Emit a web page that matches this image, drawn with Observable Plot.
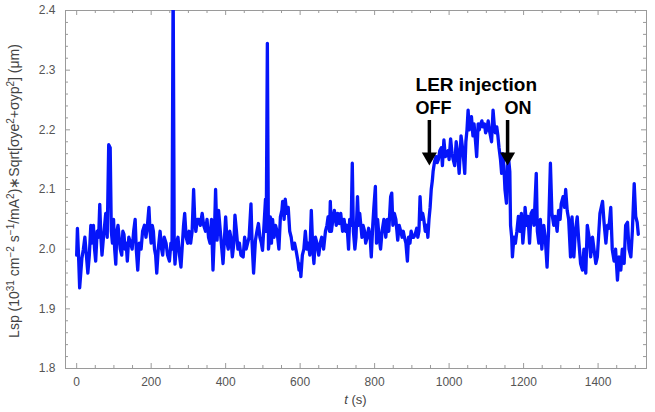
<!DOCTYPE html>
<html><head><meta charset="utf-8">
<script src="https://cdn.jsdelivr.net/npm/d3@7"></script>
<script src="https://cdn.jsdelivr.net/npm/@observablehq/plot@0.6"></script>
<style>body{margin:0;background:#fff;} #chart{width:655px;height:412px;}</style>
</head><body><div id="chart"></div>
<script>
// time (s)
const t = [
0,2,5,8,11,14,18,22,26,30,
34,38,41,45,48,51,55,59,62,65,
68,72,75,78,82,86,90,93,96,99,
102,105,108,111,114,117,121,124,127,130,
133,136,140,145,149,153,157,160,164,168,
173,177,182,186,190,194,197,200,203,206,
209,212,215,219,224,228,231,235,240,244,
249,253,256,259,262,264,268,272,276,280,
284,287,290,294,298,302,306,310,314,317,
320,324,328,332,337,341,346,350,354,358,
362,366,370,373,377,381,387,393,400,404,
407,411,414,418,422,425,429,433,437,441,
447,451,455,459,463,468,471,475,480,484,
488,492,496,499,503,507,509,512,515,518,
520,523,526,530,534,538,543,547,551,553,
557,560,564,568,572,576,580,585,590,594,
597,600,602,606,610,614,618,622,626,630,
634,637,641,645,650,654,658,663,668,672,
675,679,681,684,688,692,697,701,705,709,
714,718,722,726,730,733,737,740,743,747,
750,754,757,760,763,766,769,773,776,780,
784,788,791,795,798,802,805,808,812,816,
820,825,830,834,838,843,846,849,853,857,
862,866,870,874,877,880,884,888,891,895,
898,902,905,909,913,916,919,922,925,929,
932,936,940,943,946,949,952,955,957,961,
965,968,971,975,979,982,986,990,993,997,
1000,1004,1008,1011,1015,1019,1023,1027,1032,1036,
1039,1042,1045,1048,1051,1054,1057,1060,1064,1067,
1071,1074,1078,1081,1085,1088,1091,1095,1098,1101,
1105,1108,1111,1114,1118,1121,1124,1128,1131,1134,
1138,1141,1144,1147,1150,1154,1157,1160,1163,1165,
1168,1170,1174,1178,1182,1186,1190,1194,1198,1202,
1204,1208,1212,1216,1220,1224,1228,1234,1237,1241,
1245,1249,1254,1258,1263,1267,1272,1276,1281,1285,
1290,1294,1298,1301,1306,1310,1313,1317,1321,1326,
1330,1335,1339,1344,1348,1353,1358,1362,1367,1371,
1376,1380,1385,1389,1394,1398,1405,1412,1416,1421,
1425,1429,1434,1438,1443,1447,1452,1456,1461,1465,
1470,1474,1479,1483,1488,1492,1497,1501,1505,1508
];
// Lsp value
const lsp = [
1.99,2.035,1.99,1.935,1.96,1.985,2.0,2.02,1.99,1.96,
1.99,2.04,2.01,2.04,2.0,1.98,2.03,2.02,2.075,2.02,
1.99,2.02,2.04,2.06,2.02,2.175,2.17,2.03,2.01,2.05,
2.0,1.975,2.03,2.04,2.02,2.0,1.99,2.03,2.025,2.0,
2.01,1.98,2.02,2.01,2.0,2.03,2.05,2.0,1.965,2.01,
2.0,2.03,2.04,2.02,2.04,2.07,2.03,2.01,2.04,2.03,
2.0,1.99,1.96,2.0,2.03,2.0,1.99,2.02,2.01,1.99,
1.98,2.01,2.0,2.45,2.0,1.975,2.01,2.02,1.99,1.97,
2.01,2.04,2.06,2.02,2.01,2.03,2.01,2.03,2.1,2.05,
2.03,2.05,2.05,2.04,2.06,2.04,2.03,2.05,2.02,2.01,
2.05,1.965,2.03,2.1,2.015,2.065,2.02,1.976,2.054,2.01,
2.0,2.03,2.02,1.987,2.01,2.057,2.03,2.0,2.01,1.99,
1.987,2.02,2.0,2.01,2.02,2.076,2.01,1.96,2.015,2.03,
2.043,2.02,2.01,1.998,2.04,2.084,2.03,2.345,2.0,2.02,
2.054,2.01,2.05,2.02,2.04,2.03,2.0,2.054,2.065,2.08,
2.05,2.084,2.06,2.07,2.03,2.02,2.0,2.01,1.995,1.98,
1.965,1.975,1.954,1.99,2.0,2.03,2.0,2.01,1.99,2.065,
2.0,1.976,2.02,2.01,1.99,2.01,2.02,2.0,2.03,2.04,
2.054,2.03,2.08,2.03,2.05,2.065,2.04,2.06,2.043,2.06,
2.03,2.05,2.03,2.04,2.0,2.05,2.04,2.144,2.03,2.0,
2.02,2.088,2.04,2.06,2.04,2.02,2.04,2.03,2.01,2.02,
2.035,2.02,1.987,2.04,2.07,2.105,2.01,2.05,2.02,2.0,
2.03,2.05,2.02,2.05,2.03,2.088,2.094,2.04,2.06,2.05,
2.015,2.04,2.03,2.02,2.03,2.02,2.01,1.98,2.02,2.01,
2.03,2.02,2.02,2.025,2.035,2.02,2.03,2.088,2.05,2.06,
2.05,2.03,2.04,2.02,2.05,2.07,2.1,2.115,2.13,2.147,
2.155,2.145,2.15,2.165,2.17,2.14,2.183,2.155,2.16,2.165,
2.15,2.185,2.16,2.15,2.14,2.18,2.16,2.127,2.19,2.17,
2.15,2.127,2.18,2.2,2.233,2.2,2.21,2.222,2.19,2.21,
2.18,2.155,2.21,2.2,2.21,2.215,2.205,2.21,2.195,2.2,
2.215,2.2,2.19,2.18,2.233,2.21,2.195,2.205,2.19,2.17,
2.15,2.127,2.16,2.14,2.1,2.077,2.14,2.15,2.13,2.04,
2.02,1.987,2.02,2.01,2.03,2.055,2.03,2.06,2.01,2.04,
2.07,2.04,2.055,2.01,2.06,2.065,2.04,2.127,2.03,2.01,
2.05,2.0,2.04,2.02,1.97,2.03,2.144,2.06,2.04,2.055,
2.03,2.065,2.05,2.076,2.088,2.07,2.1,2.065,2.05,1.987,
2.054,1.987,2.03,2.054,2.015,1.976,1.965,2.0,1.96,2.04,
2.02,1.987,2.02,2.0,1.976,1.987,2.06,2.08,2.045,2.01,
2.04,2.035,2.07,2.0,1.98,2.0,1.948,1.987,1.965,2.0,
1.976,2.04,2.045,2.0,1.987,2.03,2.11,2.055,2.045,2.025
];
const xTicks = [0, 200, 400, 600, 800, 1000, 1200, 1400];
const yTicks = [1.8, 1.9, 2.0, 2.1, 2.2, 2.3, 2.4];
const xMinor = d3.range(0, 1501, 50).filter(v => v % 200 !== 0);
const yMinor = d3.range(0, 31).map(i => +(1.8 + i * 0.02).toFixed(2)).filter(v => Math.abs(v * 10 - Math.round(v * 10)) > 1e-6);
const annotText = ["LER injection", "OFF", "ON"];
const arrowT = [947, 1157];

const frameColor = "#9a9a9a";
const FW = 581, FH = 358;
const chart = Plot.plot({
  width: 655, height: 412,
  marginLeft: 65, marginRight: 9, marginTop: 10, marginBottom: 44,
  x: {domain: [-30, 1530]},
  y: {domain: [1.8, 2.4]},
  style: {fontFamily: "'Liberation Sans', Arial, Helvetica, sans-serif", fontSize: "12px", color: "#555", background: "white"},
  marks: [
    Plot.frame({stroke: frameColor}),
    // ticks (inward, all four sides)
    Plot.tickX(xTicks, {x: d => d, insetTop: FH - 5, stroke: frameColor}),
    Plot.tickX(xMinor, {x: d => d, insetTop: FH - 3, stroke: frameColor}),
    Plot.tickX(xTicks, {x: d => d, insetBottom: FH - 5, stroke: frameColor}),
    Plot.tickX(xMinor, {x: d => d, insetBottom: FH - 3, stroke: frameColor}),
    Plot.tickY(yTicks, {y: d => d, insetRight: FW - 5, stroke: frameColor}),
    Plot.tickY(yMinor, {y: d => d, insetRight: FW - 3, stroke: frameColor}),
    Plot.tickY(yTicks, {y: d => d, insetLeft: FW - 5, stroke: frameColor}),
    Plot.tickY(yMinor, {y: d => d, insetLeft: FW - 3, stroke: frameColor}),
    Plot.axisX({ticks: xTicks, tickSize: 0, tickPadding: 9, tickFormat: "d", label: null}),
    Plot.axisY({ticks: yTicks, tickSize: 0, tickPadding: 10, tickFormat: ".1f", label: null}),
    Plot.line(lsp, {x: t, y: lsp, stroke: "#0515fa", strokeWidth: 3.3, strokeLinejoin: "round", clip: true}),
    // annotation
    Plot.text([annotText[0]], {x: 910, y: 2.275, text: d => d, textAnchor: "start", fontWeight: "bold", fontSize: 19, fill: "black"}),
    Plot.text([annotText[1]], {x: 910, y: 2.2364, text: d => d, textAnchor: "start", fontWeight: "bold", fontSize: 18, fill: "black"}),
    Plot.text([annotText[2]], {x: 1149, y: 2.2364, text: d => d, textAnchor: "start", fontWeight: "bold", fontSize: 18, fill: "black"}),
    Plot.ruleX(arrowT, {x: d => d, y1: 2.2156, y2: 2.16, stroke: "black", strokeWidth: 3.5}),
    Plot.dot(arrowT, {x: d => d, y: 2.1548, symbol: "triangle", r: 5.6, rotate: 180, fill: "black", stroke: "none"})
  ]
});
document.getElementById("chart").appendChild(chart);

const svg = d3.select(chart);
const font = "'Liberation Sans', Arial, Helvetica, sans-serif";
// x-axis label
const xl = svg.append("text").attr("x", 355.5).attr("y", 404)
  .attr("text-anchor", "middle").attr("fill", "#444")
  .attr("font-family", font).attr("font-size", 13);
xl.append("tspan").attr("font-style", "italic").text("t");
xl.append("tspan").text(" (s)");
// y-axis label
const yl = svg.append("text").attr("transform", "translate(19,191) rotate(-90)")
  .attr("text-anchor", "middle").attr("fill", "#444")
  .attr("font-family", font).attr("font-size", 14);
const parts = [["Lsp (10", false], ["31", true], [" cm", false], ["\u22122", true], [" s", false], ["\u22121", true],
  ["/mA", false], ["2", true], [")\u2217Sqrt[\u03C3ye", false], ["2", true], ["+\u03C3yp", false], ["2", true], ["] (\u03BCm)", false]];
let up = false;
for (const [s, sup] of parts) {
  const ts = yl.append("tspan").text(s);
  if (sup) { ts.attr("font-size", 10).attr("dy", up ? 0 : -5); up = true; }
  else { ts.attr("dy", up ? 5 : 0); up = false; }
}
</script>
</body></html>
